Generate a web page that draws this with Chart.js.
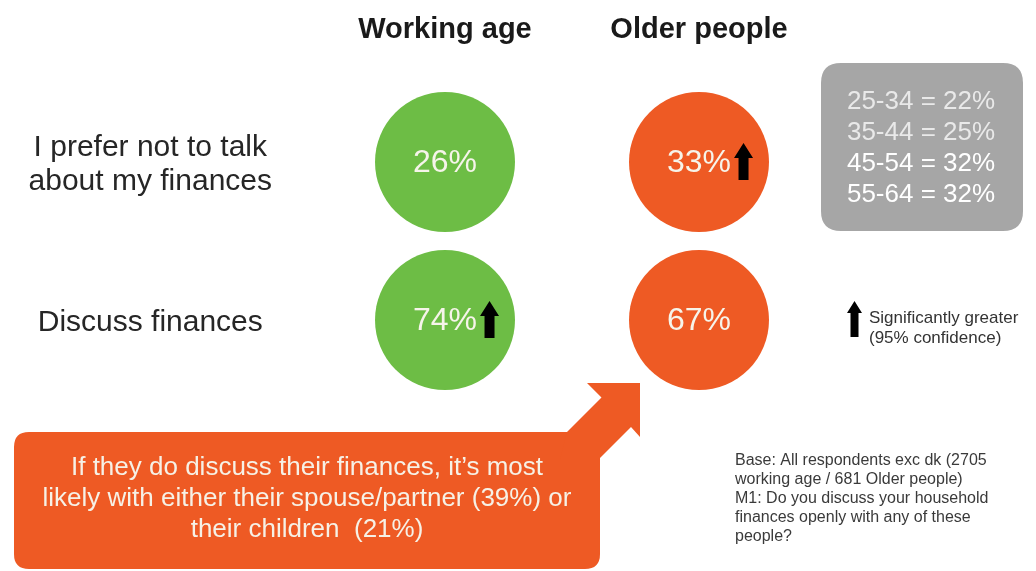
<!DOCTYPE html>
<html>
<head>
<meta charset="utf-8">
<script src="https://cdn.jsdelivr.net/npm/chart.js@4.4.1/dist/chart.umd.min.js"></script>
<style>
  html, body { margin: 0; padding: 0; background: #ffffff; }
  #wrap { width: 1036px; height: 571px; }
</style>
</head>
<body>
<div id="wrap"><canvas id="c" width="1036" height="571"></canvas></div>
<script>
// Survey groups (columns) and statements (rows)
const groups = ['Working age', 'Older people'];
const statements = ['I prefer not to talk about my finances', 'Discuss finances'];
const statementLines = [['I prefer not to talk', 'about my finances'], ['Discuss finances']];

// Share of respondents (%) per statement
const workingAge = [26, 74];
const olderPeople = [33, 67];

// Significantly greater than the other group (95% confidence)
const workingAgeSignificant = [false, true];
const olderPeopleSignificant = [true, false];

// Working-age breakdown for "I prefer not to talk about my finances"
const ageBands = ['25-34', '35-44', '45-54', '55-64'];
const ageBandValues = [22, 25, 32, 32];

const calloutLines = [
  'If they do discuss their finances, it\u2019s most',
  'likely with either their spouse/partner (39%) or',
  'their children  (21%)'
];
const legendLines = ['Significantly greater', '(95% confidence)'];
const baseLines = [
  'Base: All respondents exc dk (2705',
  'working age / 681 Older people)',
  'M1: Do you discuss your household',
  'finances openly with any of these',
  'people?'
];

const GREEN = '#6dbd45';
const ORANGE = '#ee5a24';
const GREY_BOX = '#a6a6a6';
const FONT = '"Liberation Sans", Arial, sans-serif';

function upArrow(ctx, left, top, w, h, headH, shaftW) {
  const cx = left + w / 2;
  ctx.beginPath();
  ctx.moveTo(cx, top);
  ctx.lineTo(left + w, top + headH);
  ctx.lineTo(cx + shaftW / 2, top + headH);
  ctx.lineTo(cx + shaftW / 2, top + h);
  ctx.lineTo(cx - shaftW / 2, top + h);
  ctx.lineTo(cx - shaftW / 2, top + headH);
  ctx.lineTo(left, top + headH);
  ctx.closePath();
  ctx.fill();
}

function roundRect(ctx, x, y, w, h, r) {
  ctx.beginPath();
  ctx.moveTo(x + r, y);
  ctx.lineTo(x + w - r, y);
  ctx.quadraticCurveTo(x + w, y, x + w, y + r);
  ctx.lineTo(x + w, y + h - r);
  ctx.quadraticCurveTo(x + w, y + h, x + w - r, y + h);
  ctx.lineTo(x + r, y + h);
  ctx.quadraticCurveTo(x, y + h, x, y + h - r);
  ctx.lineTo(x, y + r);
  ctx.quadraticCurveTo(x, y, x + r, y);
  ctx.closePath();
}

// Percentage labels inside the circles, with significance arrows
const valueLabels = {
  id: 'valueLabels',
  afterDatasetsDraw(chart) {
    const ctx = chart.ctx;
    ctx.save();
    ctx.font = '32px ' + FONT;
    ctx.textAlign = 'center';
    ctx.textBaseline = 'middle';
    chart.data.datasets.forEach((ds, di) => {
      const meta = chart.getDatasetMeta(di);
      meta.data.forEach((pt, i) => {
        const txt = ds.values[i] + '%';
        ctx.fillStyle = '#f6f4ea';
        ctx.fillText(txt, pt.x, pt.y + 1);
        if (ds.significant[i]) {
          const w = ctx.measureText(txt).width;
          ctx.fillStyle = '#000000';
          upArrow(ctx, pt.x + w / 2 + 3, pt.y - 19, 19, 37, 15, 10);
        }
      });
    });
    ctx.restore();
  }
};

// Side notes: age breakdown box, legend, base text and callout
const notes = {
  id: 'notes',
  afterDraw(chart) {
    const ctx = chart.ctx;
    ctx.save();

    // Age breakdown box
    ctx.fillStyle = GREY_BOX;
    roundRect(ctx, 821, 63, 202, 168, 20);
    ctx.fill();
    ctx.font = '26px ' + FONT;
    ctx.textAlign = 'center';
    ctx.textBaseline = 'middle';
    ageBands.forEach((b, i) => {
      ctx.fillStyle = i >= 2 ? '#ffffff' : '#e9e9e9';
      ctx.fillText(b + ' = ' + ageBandValues[i] + '%', 921, 102 + i * 31);
    });

    // Significance legend
    ctx.fillStyle = '#000000';
    upArrow(ctx, 847, 301, 15, 36, 12, 8);
    ctx.fillStyle = '#333333';
    ctx.font = '17px ' + FONT;
    ctx.textAlign = 'left';
    legendLines.forEach((t, i) => ctx.fillText(t, 869, 318 + i * 20));

    // Base / question text
    ctx.fillStyle = '#3a3a3a';
    ctx.font = '16px ' + FONT;
    baseLines.forEach((t, i) => ctx.fillText(t, 735, 461 + i * 19));

    // Callout with arrow pointing to the older-people circle
    ctx.fillStyle = ORANGE;
    roundRect(ctx, 14, 432, 586, 137, 15);
    ctx.fill();
    ctx.beginPath();
    ctx.moveTo(567, 432);
    ctx.lineTo(601.5, 397.5);
    ctx.lineTo(587, 383);
    ctx.lineTo(640, 383);
    ctx.lineTo(640, 437);
    ctx.lineTo(631, 427);
    ctx.lineTo(598, 460);
    ctx.lineTo(560, 460);
    ctx.closePath();
    ctx.fill();
    ctx.fillStyle = '#f6f1e6';
    ctx.font = '26px ' + FONT;
    ctx.textAlign = 'center';
    calloutLines.forEach((t, i) => ctx.fillText(t, 307, 468 + i * 31));

    ctx.restore();
  }
};

const datasets = [
  {
    label: groups[0],
    data: statements.map(s => ({ x: groups[0], y: s })),
    values: workingAge,
    significant: workingAgeSignificant,
    backgroundColor: GREEN
  },
  {
    label: groups[1],
    data: statements.map(s => ({ x: groups[1], y: s })),
    values: olderPeople,
    significant: olderPeopleSignificant,
    backgroundColor: ORANGE
  }
].map(d => Object.assign(d, { pointRadius: 70, pointHoverRadius: 70, borderWidth: 0, pointBorderWidth: 0 }));

new Chart(document.getElementById('c'), {
  type: 'scatter',
  data: { datasets },
  options: {
    responsive: false,
    animation: false,
    devicePixelRatio: 1,
    events: [],
    layout: { padding: { left: 0, top: 0, right: 210, bottom: 172 } },
    plugins: { legend: { display: false }, tooltip: { enabled: false } },
    scales: {
      x: {
        type: 'category',
        labels: groups,
        position: 'top',
        offset: true,
        grid: { display: false },
        border: { display: false },
        ticks: { color: '#1a1a1a', padding: 28, font: { family: FONT, size: 29, weight: 'bold' } },
        afterFit(s) { s.height = 83; }
      },
      y: {
        type: 'category',
        labels: statements,
        offset: true,
        grid: { display: false },
        border: { display: false },
        ticks: {
          color: '#262626',
          padding: 38,
          labelOffset: 3,
          crossAlign: 'center',
          font: { family: FONT, size: 30, lineHeight: 1.13 },
          callback: (v, i) => statementLines[i]
        },
        afterFit(s) { s.width = 318; }
      }
    }
  },
  plugins: [valueLabels, notes]
});
</script>
</body>
</html>
